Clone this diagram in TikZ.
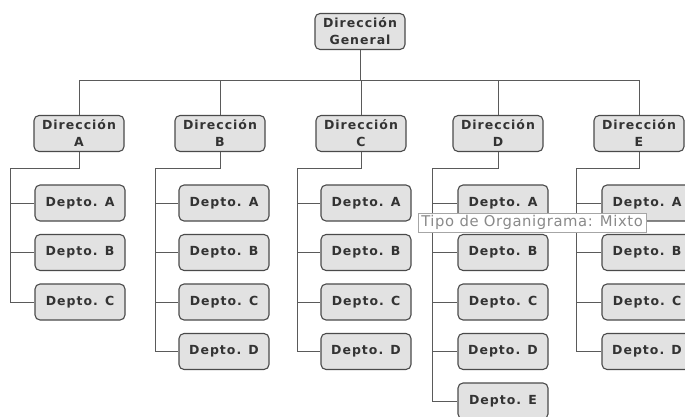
\documentclass[tikz,border=0pt]{standalone}
\usepackage{fontspec}
\newfontfamily\boxfont[LetterSpace=8]{DejaVu Sans}
\newfontfamily\tipfont[LetterSpace=4]{DejaVu Sans}
\definecolor{boxfill}{HTML}{E2E2E2}
\definecolor{boxline}{HTML}{4A4A4A}
\definecolor{boxtext}{HTML}{333333}
\definecolor{linkcol}{HTML}{5A5A5A}
\definecolor{tiptext}{HTML}{8A8A8A}
\tikzset{
  orgbox/.style={draw=boxline, fill=boxfill, rounded corners=5pt, line width=1.1pt,
    minimum width=90pt, minimum height=36pt, inner sep=0pt, align=center,
    text=boxtext, font=\boxfont\bfseries\fontsize{12.5}{17}\selectfont},
  link/.style={draw=linkcol, line width=1pt},
  tipbox/.style={draw=gray!70, fill=white, line width=0.6pt, text=tiptext,
    minimum height=19pt, inner xsep=3pt, inner ysep=0pt, anchor=west,
    font=\tipfont\fontsize{14.8}{16}\selectfont}
}
\begin{document}
\begin{tikzpicture}[x=1pt,y=-1pt]
\fill[white] (0,0) rectangle (685,417);
\useasboundingbox (0,0) rectangle (685,417);

% top of the chart
\node[orgbox] (G) at (360,31.5) {Dirección\\General};
\coordinate (bus) at (360,81);
\draw[link] (G.south) -- (bus);

% one column per direction, each with its departments
\foreach \c/\x/\s/\px/\list in {A/79/10/80/{A,B,C}, B/220/155/224/{A,B,C,D},
    C/361/297/366/{A,B,C,D}, D/498/432/503/{A,B,C,D,E}, E/639/576/647/{A,B,C,D}} {
  \node[orgbox] (d\c) at (\x,133.5) {Dirección\\\c};
  \draw[link] (d\c.north) |- (bus);
  \coordinate (s\c) at (\s,168);
  \foreach \k [count=\i from 0] in \list {
    \node[orgbox] (p\c\k) at (\px,{203+49.5*\i}) {Depto. \k};
    \draw[link] (d\c.south) |- (s\c) |- (p\c\k.west);
  }
}

% tooltip label
\node[tipbox] (tip) at (418,222.5) {Tipo de Organigrama: Mixto};
\end{tikzpicture}
\end{document}
